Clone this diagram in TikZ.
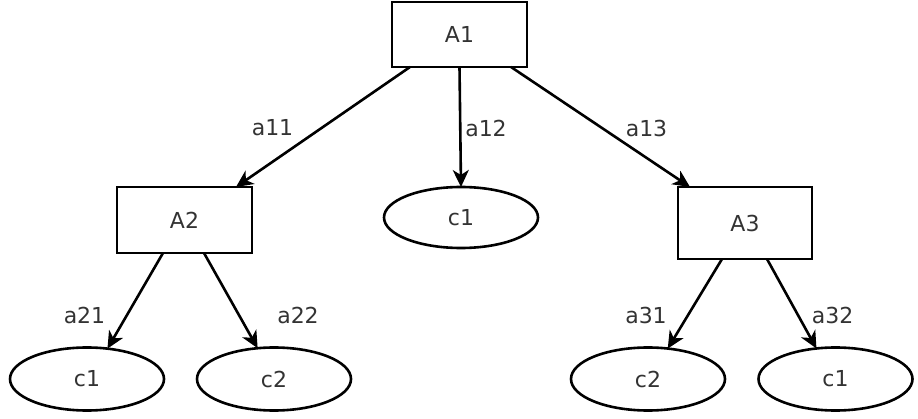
\documentclass[tikz,border=0pt]{standalone}
\usepackage{fontspec}
\setmainfont{DejaVu Sans}
\usetikzlibrary{shapes.geometric,arrows.meta,calc}
\begin{document}
\begin{tikzpicture}[x=1pt,y=-1pt,
  box/.style={draw,line width=2.6pt,rectangle,inner sep=0pt,outer sep=0pt,font=\fontsize{22}{24}\selectfont,text=black!80},
  ell/.style={draw,line width=2.6pt,ellipse,inner sep=0pt,outer sep=0pt,minimum width=154pt,minimum height=63pt,font=\fontsize{22}{24}\selectfont,text=black!80},
  lbl/.style={inner sep=0pt,font=\fontsize{22}{24}\selectfont,text=black!80},
  arr/.style={line width=2.6pt,-{Stealth[length=17pt,width=16pt,inset=5pt]}}]
\useasboundingbox (0,0) rectangle (918,419);
\node[box,minimum width=135pt,minimum height=65pt] (A1) at (459.5,34.5) {A1};
\node[box,minimum width=135pt,minimum height=66pt] (A2) at (184.5,220) {A2};
\node[box,minimum width=134pt,minimum height=72pt] (A3) at (745,223) {A3};
\node[ell,minimum height=61pt] (c1m) at (461,217.5) {c1};
\node[ell] (c1l) at (87,379) {c1};
\node[ell] (c2l) at (274,379) {c2};
\node[ell] (c2r) at (648,379) {c2};
\node[ell] (c1r) at (835.5,379) {c1};
\draw[arr] ([xshift=-49.5pt]A1.south) -- ([xshift=51.5pt]A2.north);
\draw[arr] (A1.south) -- (c1m.north);
\draw[arr] ([xshift=51.5pt]A1.south) -- ([xshift=-55pt]A3.north);
\draw[arr] ([xshift=-21.5pt]A2.south) -- (c1l.56);
\draw[arr] ([xshift=19.5pt]A2.south) -- (c2l.118);
\draw[arr] ([xshift=-23pt]A3.south) -- (c2r.57);
\draw[arr] ([xshift=22pt]A3.south) -- (c1r.122);
\node[lbl] (l11) at (272.5,128) {a11};
\node[lbl] (l12) at (486,128) {a12};
\node[lbl] (l13) at (646.5,128) {a13};
\node[lbl] (l21) at (84.5,315) {a21};
\node[lbl] (l22) at (298,315) {a22};
\node[lbl] (l31) at (646,315.5) {a31};
\node[lbl] (l32) at (832.5,315.5) {a32};
\end{tikzpicture}
\end{document}
